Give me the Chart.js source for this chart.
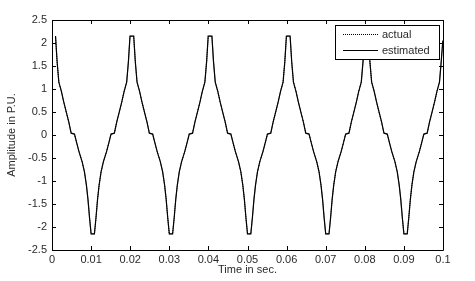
<!DOCTYPE html>
<html>
<head>
<title>Amplitude vs time</title>
<script src="https://cdn.jsdelivr.net/npm/chart.js"></script>
<style>
body { margin:0; background:#fff; }
</style>
</head>
<body>
<canvas id="myChart" width="475" height="281"></canvas>
<script>
// time in ms
var timeMs = [
0.9, 1.3, 1.75, 2.4, 3.0, 3.7, 4.3, 4.9, 5.75, 6.25, 6.9, 7.7, 8.3, 8.8, 9.2, 9.6, 10.0, 10.85, 11.25, 11.65, 12.05, 12.55, 13.15, 13.95, 14.6, 15.1, 15.95, 16.55, 17.15, 17.85, 18.45, 19.1, 19.55, 19.95,
20.9, 21.3, 21.75, 22.4, 23.0, 23.7, 24.3, 24.9, 25.75, 26.25, 26.9, 27.7, 28.3, 28.8, 29.2, 29.6, 30.0, 30.85, 31.25, 31.65, 32.05, 32.55, 33.15, 33.95, 34.6, 35.1, 35.95, 36.55, 37.15, 37.85, 38.45, 39.1, 39.55, 39.95,
40.9, 41.3, 41.75, 42.4, 43.0, 43.7, 44.3, 44.9, 45.75, 46.25, 46.9, 47.7, 48.3, 48.8, 49.2, 49.6, 50.0, 50.85, 51.25, 51.65, 52.05, 52.55, 53.15, 53.95, 54.6, 55.1, 55.95, 56.55, 57.15, 57.85, 58.45, 59.1, 59.55, 59.95,
60.9, 61.3, 61.75, 62.4, 63.0, 63.7, 64.3, 64.9, 65.75, 66.25, 66.9, 67.7, 68.3, 68.8, 69.2, 69.6, 70.0, 70.85, 71.25, 71.65, 72.05, 72.55, 73.15, 73.95, 74.6, 75.1, 75.95, 76.55, 77.15, 77.85, 78.45, 79.1, 79.55, 79.95,
80.9, 81.3, 81.75, 82.4, 83.0, 83.7, 84.3, 84.9, 85.75, 86.25, 86.9, 87.7, 88.3, 88.8, 89.2, 89.6, 90.0, 90.85, 91.25, 91.65, 92.05, 92.55, 93.15, 93.95, 94.6, 95.1, 95.95, 96.55, 97.15, 97.85, 98.45, 99.1, 99.55, 99.95
];

var estimated = [
2.15, 1.6, 1.15, 0.95, 0.72, 0.48, 0.28, 0.04, 0.02, -0.15, -0.36, -0.58, -0.8, -1.09, -1.4, -1.8, -2.15, -2.15, -1.8, -1.4, -1.09, -0.8, -0.58, -0.36, -0.15, 0.02, 0.04, 0.28, 0.48, 0.72, 0.95, 1.15, 1.6, 2.15,
2.15, 1.6, 1.15, 0.95, 0.72, 0.48, 0.28, 0.04, 0.02, -0.15, -0.36, -0.58, -0.8, -1.09, -1.4, -1.8, -2.15, -2.15, -1.8, -1.4, -1.09, -0.8, -0.58, -0.36, -0.15, 0.02, 0.04, 0.28, 0.48, 0.72, 0.95, 1.15, 1.6, 2.15,
2.15, 1.6, 1.15, 0.95, 0.72, 0.48, 0.28, 0.04, 0.02, -0.15, -0.36, -0.58, -0.8, -1.09, -1.4, -1.8, -2.15, -2.15, -1.8, -1.4, -1.09, -0.8, -0.58, -0.36, -0.15, 0.02, 0.04, 0.28, 0.48, 0.72, 0.95, 1.15, 1.6, 2.15,
2.15, 1.6, 1.15, 0.95, 0.72, 0.48, 0.28, 0.04, 0.02, -0.15, -0.36, -0.58, -0.8, -1.09, -1.4, -1.8, -2.15, -2.15, -1.8, -1.4, -1.09, -0.8, -0.58, -0.36, -0.15, 0.02, 0.04, 0.28, 0.48, 0.72, 0.95, 1.15, 1.6, 2.15,
2.15, 1.6, 1.15, 0.95, 0.72, 0.48, 0.28, 0.04, 0.02, -0.15, -0.36, -0.58, -0.8, -1.09, -1.4, -1.8, -2.15, -2.15, -1.8, -1.4, -1.09, -0.8, -0.58, -0.36, -0.15, 0.02, 0.04, 0.28, 0.48, 0.72, 0.95, 1.15, 1.6, 2.05
];

// actual lies right under the estimated curve
var actual = estimated;

var xTicks = [0, 0.01, 0.02, 0.03, 0.04, 0.05, 0.06, 0.07, 0.08, 0.09, 0.1];
var yTicks = [-2.5, -2, -1.5, -1, -0.5, 0, 0.5, 1, 1.5, 2, 2.5];
var legendNames = ['actual', 'estimated'];

function pts(vals) {
  return vals.map(function(v, i){ return {x: timeMs[i] / 1000, y: v}; });
}

var FONT = 'Liberation Sans, Arial, sans-serif';
var TXT = '#2a2a2a';

// box round the plot with inward ticks on all four sides, matlab style
var framePlugin = {
  id: 'frame',
  afterDraw: function(chart) {
    var ctx = chart.ctx, a = chart.chartArea;
    var xs = chart.scales.x, ys = chart.scales.y;
    ctx.save();
    ctx.strokeStyle = '#000';
    ctx.lineWidth = 1;
    ctx.beginPath();
    ctx.rect(Math.round(a.left) + 0.5, Math.round(a.top) + 0.5, Math.round(a.right - a.left), Math.round(a.bottom - a.top));
    xTicks.forEach(function(t){
      var px = Math.round(xs.getPixelForValue(t)) + 0.5;
      ctx.moveTo(px, a.bottom); ctx.lineTo(px, a.bottom - 4);
      ctx.moveTo(px, a.top); ctx.lineTo(px, a.top + 4);
    });
    yTicks.forEach(function(t){
      var py = Math.round(ys.getPixelForValue(t)) + 0.5;
      ctx.moveTo(a.left, py); ctx.lineTo(a.left + 4, py);
      ctx.moveTo(a.right, py); ctx.lineTo(a.right - 4, py);
    });
    ctx.stroke();

    // legend box
    var bx = 335.5, by = 25.5, bw = 104, bh = 34;
    ctx.fillStyle = '#fff';
    ctx.fillRect(bx, by, bw, bh);
    ctx.strokeRect(bx, by, bw, bh);
    ctx.font = '11px ' + FONT;
    ctx.fillStyle = TXT;
    ctx.textBaseline = 'middle';
    ctx.textAlign = 'left';
    var rows = [by + 9, by + 25];
    ctx.setLineDash([1, 1]);
    ctx.beginPath(); ctx.moveTo(343, rows[0]); ctx.lineTo(378, rows[0]); ctx.stroke();
    ctx.setLineDash([]);
    ctx.beginPath(); ctx.moveTo(343, rows[1]); ctx.lineTo(378, rows[1]); ctx.stroke();
    ctx.fillText(legendNames[0], 382, rows[0]);
    ctx.fillText(legendNames[1], 382, rows[1]);
    ctx.restore();
  }
};

var config = {
  type: 'line',
  data: {
    datasets: [
      { label: legendNames[0], data: pts(actual), borderColor: '#000', borderWidth: 1, borderDash: [1, 1], pointRadius: 0, fill: false, tension: 0 },
      { label: legendNames[1], data: pts(estimated), borderColor: '#000', borderWidth: 1.2, pointRadius: 0, fill: false, tension: 0 }
    ]
  },
  options: {
    responsive: false,
    animation: false,
    layout: { padding: { left: 0, top: 20, right: 32, bottom: 0 } },
    plugins: { legend: { display: false }, tooltip: { enabled: false } },
    scales: {
      x: {
        type: 'linear', min: 0, max: 0.1,
        grid: { display: false, drawTicks: false },
        border: { display: false },
        afterFit: function(s){ s.height = 31; },
        afterBuildTicks: function(s){ s.ticks = xTicks.map(function(v){ return {value: v}; }); },
        ticks: {
          autoSkip: false, maxRotation: 0, padding: 3,
          color: TXT, font: { family: FONT, size: 11 },
          callback: function(v){ return String(Number(v.toFixed(2))); }
        },
        title: { display: true, text: 'Time in sec.', color: TXT, font: { family: FONT, size: 11 }, padding: { top: 0, bottom: 4 } }
      },
      y: {
        type: 'linear', min: -2.5, max: 2.5,
        grid: { display: false, drawTicks: false },
        border: { display: false },
        afterFit: function(s){ s.width = 52; },
        afterBuildTicks: function(s){ s.ticks = yTicks.map(function(v){ return {value: v}; }); },
        ticks: {
          autoSkip: false, padding: 5,
          color: TXT, font: { family: FONT, size: 11 },
          callback: function(v){ return String(Number(v.toFixed(1))); }
        },
        title: { display: true, text: 'Amplitude in P.U.', color: TXT, font: { family: FONT, size: 11 }, padding: { top: 5, bottom: 0 } }
      }
    }
  },
  plugins: [framePlugin]
};

var myChart = new Chart(document.getElementById('myChart'), config);
</script>
</body>
</html>
